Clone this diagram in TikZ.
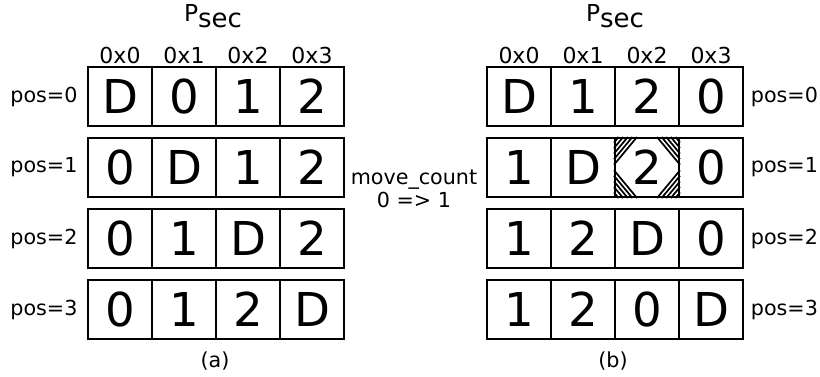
\documentclass[tikz,border=0pt]{standalone}
\usepackage{fontspec}
\setmainfont{DejaVu Sans}
\usetikzlibrary{positioning}
\tikzstyle{cell} = [rectangle, draw, line width=1.5pt, minimum width=48pt, minimum height=44.25pt, inner sep=0pt, font=\fontsize{35}{35}\selectfont]
\tikzstyle{tag} = [inner sep=0pt, font=\fontsize{15.5}{18}\selectfont]
\tikzstyle{head} = [inner sep=0pt, font=\fontsize{16.5}{18}\selectfont]
\tikzstyle{hatch} = [line width=1.3pt]
\newcommand{\psecname}{{\fontsize{17.5}{18}\selectfont P}\raisebox{-4.5pt}{\fontsize{19.5}{20}\selectfont sec}}

\begin{document}
\begin{tikzpicture}[x=0.75pt, y=-0.75pt]
\useasboundingbox (0,0) rectangle (820,376);

% table (a)
\node[anchor=base] (atitle) at (213,21.5) {\psecname};
\foreach \h [count=\c from 0] in {0x0,0x1,0x2,0x3}
  \node[head] (ah\c) at ({120+64*\c},55.5) {\h};
\foreach \v [count=\c from 0] in {D,0,1,2}
  \node[cell] (a0\c) at ({120+64*\c},96.5) {\v};
\foreach \v [count=\c from 0] in {0,D,1,2}
  \node[cell] (a1\c) at ({120+64*\c},167.5) {\v};
\foreach \v [count=\c from 0] in {0,1,D,2}
  \node[cell] (a2\c) at ({120+64*\c},238.5) {\v};
\foreach \v [count=\c from 0] in {0,1,2,D}
  \node[cell] (a3\c) at ({120+64*\c},309.5) {\v};
\foreach \r in {0,...,3}
  \node[tag, left=7pt of a\r0] (apos\r) {pos=\r};
\node[tag] (acap) at (215,361) {(a)};

% table (b)
\node[anchor=base] (btitle) at (615,21.5) {\psecname};
\foreach \h [count=\c from 0] in {0x0,0x1,0x2,0x3}
  \node[head] (bh\c) at ({519+64*\c},55.5) {\h};
\foreach \v [count=\c from 0] in {D,1,2,0}
  \node[cell] (b0\c) at ({519+64*\c},96.5) {\v};
\foreach \v [count=\c from 0] in {1,D,2,0}
  \node[cell] (b1\c) at ({519+64*\c},167.5) {\v};
\foreach \v [count=\c from 0] in {1,2,D,0}
  \node[cell] (b2\c) at ({519+64*\c},238.5) {\v};
\foreach \v [count=\c from 0] in {1,2,0,D}
  \node[cell] (b3\c) at ({519+64*\c},309.5) {\v};
\foreach \r in {0,...,3}
  \node[tag, right=5pt of b\r3] (bpos\r) {pos=\r};
\node[tag] (bcap) at (613,361) {(b)};

% hatched corners of the moved entry
\foreach \k in {0.2,0.4,0.6,0.8,1.0} {
  \draw[hatch] ([yshift=-20.8pt*\k]b12.north west) -- ([xshift=17.25pt*\k]b12.north west);
  \draw[hatch] ([yshift=-20.8pt*\k]b12.north east) -- ([xshift=-17.25pt*\k]b12.north east);
  \draw[hatch] ([yshift=20.8pt*\k]b12.south west) -- ([xshift=17.25pt*\k]b12.south west);
  \draw[hatch] ([yshift=20.8pt*\k]b12.south east) -- ([xshift=-17.25pt*\k]b12.south east);
}

% counter between the tables
\node[tag, align=center, font=\fontsize{15.5}{17.5}\selectfont] (count) at (414,189) {move\_count\\0 => 1};
\end{tikzpicture}
\end{document}
